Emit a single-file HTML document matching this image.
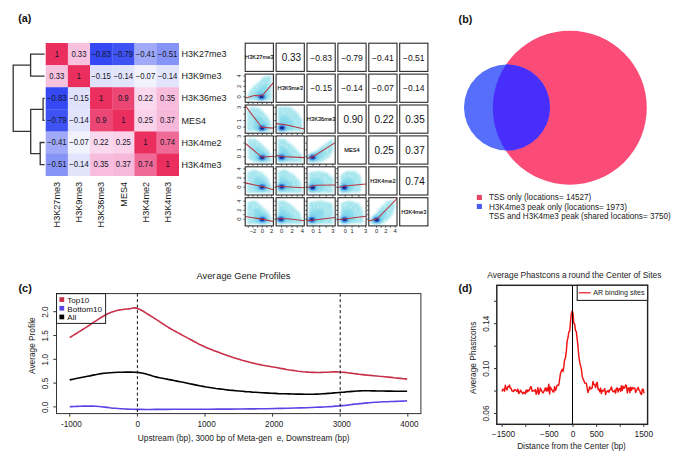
<!DOCTYPE html>
<html><head><meta charset="utf-8"><style>
html,body{margin:0;padding:0;background:#fff;}
body{width:685px;height:470px;overflow:hidden;}
svg{display:block;font-family:"Liberation Sans", sans-serif;}
</style></head><body>
<svg width="685" height="470" viewBox="0 0 685 470">
<rect width="685" height="470" fill="#fff"/>
<g id="heat">
<rect x="45.70" y="43.00" width="22.47" height="22.42" fill="#ea2f5e"/>
<rect x="67.87" y="43.00" width="22.47" height="22.42" fill="#f8c2df"/>
<rect x="90.03" y="43.00" width="22.47" height="22.42" fill="#3449f4"/>
<rect x="112.20" y="43.00" width="22.47" height="22.42" fill="#3f53f4"/>
<rect x="134.37" y="43.00" width="22.47" height="22.42" fill="#a0aaf8"/>
<rect x="156.53" y="43.00" width="22.47" height="22.42" fill="#8794f7"/>
<rect x="45.70" y="65.12" width="22.47" height="22.42" fill="#f8c2df"/>
<rect x="67.87" y="65.12" width="22.47" height="22.42" fill="#ea2f5e"/>
<rect x="90.03" y="65.12" width="22.47" height="22.42" fill="#dfe2fa"/>
<rect x="112.20" y="65.12" width="22.47" height="22.42" fill="#e1e4fb"/>
<rect x="134.37" y="65.12" width="22.47" height="22.42" fill="#f1f2fb"/>
<rect x="156.53" y="65.12" width="22.47" height="22.42" fill="#e1e4fb"/>
<rect x="45.70" y="87.23" width="22.47" height="22.42" fill="#3449f4"/>
<rect x="67.87" y="87.23" width="22.47" height="22.42" fill="#dfe2fa"/>
<rect x="90.03" y="87.23" width="22.47" height="22.42" fill="#ea2f5e"/>
<rect x="112.20" y="87.23" width="22.47" height="22.42" fill="#ec4675"/>
<rect x="134.37" y="87.23" width="22.47" height="22.42" fill="#fad8ed"/>
<rect x="156.53" y="87.23" width="22.47" height="22.42" fill="#f8bddc"/>
<rect x="45.70" y="109.35" width="22.47" height="22.42" fill="#3f53f4"/>
<rect x="67.87" y="109.35" width="22.47" height="22.42" fill="#e1e4fb"/>
<rect x="90.03" y="109.35" width="22.47" height="22.42" fill="#ec4675"/>
<rect x="112.20" y="109.35" width="22.47" height="22.42" fill="#ea2f5e"/>
<rect x="134.37" y="109.35" width="22.47" height="22.42" fill="#fad2e9"/>
<rect x="156.53" y="109.35" width="22.47" height="22.42" fill="#f7b9d9"/>
<rect x="45.70" y="131.47" width="22.47" height="22.42" fill="#a0aaf8"/>
<rect x="67.87" y="131.47" width="22.47" height="22.42" fill="#f1f2fb"/>
<rect x="90.03" y="131.47" width="22.47" height="22.42" fill="#fad8ed"/>
<rect x="112.20" y="131.47" width="22.47" height="22.42" fill="#fad2e9"/>
<rect x="134.37" y="131.47" width="22.47" height="22.42" fill="#ea2f5e"/>
<rect x="156.53" y="131.47" width="22.47" height="22.42" fill="#ef6a97"/>
<rect x="45.70" y="153.58" width="22.47" height="22.42" fill="#8794f7"/>
<rect x="67.87" y="153.58" width="22.47" height="22.42" fill="#e1e4fb"/>
<rect x="90.03" y="153.58" width="22.47" height="22.42" fill="#f8bddc"/>
<rect x="112.20" y="153.58" width="22.47" height="22.42" fill="#f7b9d9"/>
<rect x="134.37" y="153.58" width="22.47" height="22.42" fill="#ef6a97"/>
<rect x="156.53" y="153.58" width="22.47" height="22.42" fill="#ea2f5e"/>
<text x="56.78" y="56.66" font-size="8.4" text-anchor="middle" fill="#15152a" font-weight="normal" textLength="4.30" lengthAdjust="spacingAndGlyphs">1</text>
<text x="78.95" y="56.66" font-size="8.4" text-anchor="middle" fill="#15152a" font-weight="normal" textLength="15.04" lengthAdjust="spacingAndGlyphs">0.33</text>
<text x="101.12" y="56.66" font-size="8.4" text-anchor="middle" fill="#15152a" font-weight="normal" textLength="19.55" lengthAdjust="spacingAndGlyphs">−0.83</text>
<text x="123.28" y="56.66" font-size="8.4" text-anchor="middle" fill="#15152a" font-weight="normal" textLength="19.55" lengthAdjust="spacingAndGlyphs">−0.79</text>
<text x="145.45" y="56.66" font-size="8.4" text-anchor="middle" fill="#15152a" font-weight="normal" textLength="19.55" lengthAdjust="spacingAndGlyphs">−0.41</text>
<text x="167.62" y="56.66" font-size="8.4" text-anchor="middle" fill="#15152a" font-weight="normal" textLength="19.55" lengthAdjust="spacingAndGlyphs">−0.51</text>
<text x="56.78" y="78.77" font-size="8.4" text-anchor="middle" fill="#15152a" font-weight="normal" textLength="15.04" lengthAdjust="spacingAndGlyphs">0.33</text>
<text x="78.95" y="78.77" font-size="8.4" text-anchor="middle" fill="#15152a" font-weight="normal" textLength="4.30" lengthAdjust="spacingAndGlyphs">1</text>
<text x="101.12" y="78.77" font-size="8.4" text-anchor="middle" fill="#15152a" font-weight="normal" textLength="19.55" lengthAdjust="spacingAndGlyphs">−0.15</text>
<text x="123.28" y="78.77" font-size="8.4" text-anchor="middle" fill="#15152a" font-weight="normal" textLength="19.55" lengthAdjust="spacingAndGlyphs">−0.14</text>
<text x="145.45" y="78.77" font-size="8.4" text-anchor="middle" fill="#15152a" font-weight="normal" textLength="19.55" lengthAdjust="spacingAndGlyphs">−0.07</text>
<text x="167.62" y="78.77" font-size="8.4" text-anchor="middle" fill="#15152a" font-weight="normal" textLength="19.55" lengthAdjust="spacingAndGlyphs">−0.14</text>
<text x="56.78" y="100.89" font-size="8.4" text-anchor="middle" fill="#15152a" font-weight="normal" textLength="19.55" lengthAdjust="spacingAndGlyphs">−0.83</text>
<text x="78.95" y="100.89" font-size="8.4" text-anchor="middle" fill="#15152a" font-weight="normal" textLength="19.55" lengthAdjust="spacingAndGlyphs">−0.15</text>
<text x="101.12" y="100.89" font-size="8.4" text-anchor="middle" fill="#15152a" font-weight="normal" textLength="4.30" lengthAdjust="spacingAndGlyphs">1</text>
<text x="123.28" y="100.89" font-size="8.4" text-anchor="middle" fill="#15152a" font-weight="normal" textLength="10.74" lengthAdjust="spacingAndGlyphs">0.9</text>
<text x="145.45" y="100.89" font-size="8.4" text-anchor="middle" fill="#15152a" font-weight="normal" textLength="15.04" lengthAdjust="spacingAndGlyphs">0.22</text>
<text x="167.62" y="100.89" font-size="8.4" text-anchor="middle" fill="#15152a" font-weight="normal" textLength="15.04" lengthAdjust="spacingAndGlyphs">0.35</text>
<text x="56.78" y="123.01" font-size="8.4" text-anchor="middle" fill="#15152a" font-weight="normal" textLength="19.55" lengthAdjust="spacingAndGlyphs">−0.79</text>
<text x="78.95" y="123.01" font-size="8.4" text-anchor="middle" fill="#15152a" font-weight="normal" textLength="19.55" lengthAdjust="spacingAndGlyphs">−0.14</text>
<text x="101.12" y="123.01" font-size="8.4" text-anchor="middle" fill="#15152a" font-weight="normal" textLength="10.74" lengthAdjust="spacingAndGlyphs">0.9</text>
<text x="123.28" y="123.01" font-size="8.4" text-anchor="middle" fill="#15152a" font-weight="normal" textLength="4.30" lengthAdjust="spacingAndGlyphs">1</text>
<text x="145.45" y="123.01" font-size="8.4" text-anchor="middle" fill="#15152a" font-weight="normal" textLength="15.04" lengthAdjust="spacingAndGlyphs">0.25</text>
<text x="167.62" y="123.01" font-size="8.4" text-anchor="middle" fill="#15152a" font-weight="normal" textLength="15.04" lengthAdjust="spacingAndGlyphs">0.37</text>
<text x="56.78" y="145.12" font-size="8.4" text-anchor="middle" fill="#15152a" font-weight="normal" textLength="19.55" lengthAdjust="spacingAndGlyphs">−0.41</text>
<text x="78.95" y="145.12" font-size="8.4" text-anchor="middle" fill="#15152a" font-weight="normal" textLength="19.55" lengthAdjust="spacingAndGlyphs">−0.07</text>
<text x="101.12" y="145.12" font-size="8.4" text-anchor="middle" fill="#15152a" font-weight="normal" textLength="15.04" lengthAdjust="spacingAndGlyphs">0.22</text>
<text x="123.28" y="145.12" font-size="8.4" text-anchor="middle" fill="#15152a" font-weight="normal" textLength="15.04" lengthAdjust="spacingAndGlyphs">0.25</text>
<text x="145.45" y="145.12" font-size="8.4" text-anchor="middle" fill="#15152a" font-weight="normal" textLength="4.30" lengthAdjust="spacingAndGlyphs">1</text>
<text x="167.62" y="145.12" font-size="8.4" text-anchor="middle" fill="#15152a" font-weight="normal" textLength="15.04" lengthAdjust="spacingAndGlyphs">0.74</text>
<text x="56.78" y="167.24" font-size="8.4" text-anchor="middle" fill="#15152a" font-weight="normal" textLength="19.55" lengthAdjust="spacingAndGlyphs">−0.51</text>
<text x="78.95" y="167.24" font-size="8.4" text-anchor="middle" fill="#15152a" font-weight="normal" textLength="19.55" lengthAdjust="spacingAndGlyphs">−0.14</text>
<text x="101.12" y="167.24" font-size="8.4" text-anchor="middle" fill="#15152a" font-weight="normal" textLength="15.04" lengthAdjust="spacingAndGlyphs">0.35</text>
<text x="123.28" y="167.24" font-size="8.4" text-anchor="middle" fill="#15152a" font-weight="normal" textLength="15.04" lengthAdjust="spacingAndGlyphs">0.37</text>
<text x="145.45" y="167.24" font-size="8.4" text-anchor="middle" fill="#15152a" font-weight="normal" textLength="15.04" lengthAdjust="spacingAndGlyphs">0.74</text>
<text x="167.62" y="167.24" font-size="8.4" text-anchor="middle" fill="#15152a" font-weight="normal" textLength="4.30" lengthAdjust="spacingAndGlyphs">1</text>
<text x="181.50" y="57.26" font-size="9" text-anchor="start" fill="#1a1a1a" font-weight="normal" >H3K27me3</text>
<text x="181.50" y="79.38" font-size="9" text-anchor="start" fill="#1a1a1a" font-weight="normal" >H3K9me3</text>
<text x="181.50" y="101.49" font-size="9" text-anchor="start" fill="#1a1a1a" font-weight="normal" >H3K36me3</text>
<text x="181.50" y="123.61" font-size="9" text-anchor="start" fill="#1a1a1a" font-weight="normal" >MES4</text>
<text x="181.50" y="145.72" font-size="9" text-anchor="start" fill="#1a1a1a" font-weight="normal" >H3K4me2</text>
<text x="181.50" y="167.84" font-size="9" text-anchor="start" fill="#1a1a1a" font-weight="normal" >H3K4me3</text>
<text transform="translate(60.08,181.8) rotate(-90)" font-size="9.15" text-anchor="end" fill="#1a1a1a">H3K27me3</text>
<text transform="translate(82.25,181.8) rotate(-90)" font-size="9.15" text-anchor="end" fill="#1a1a1a">H3K9me3</text>
<text transform="translate(104.42,181.8) rotate(-90)" font-size="9.15" text-anchor="end" fill="#1a1a1a">H3K36me3</text>
<text transform="translate(126.58,181.8) rotate(-90)" font-size="9.15" text-anchor="end" fill="#1a1a1a">MES4</text>
<text transform="translate(148.75,181.8) rotate(-90)" font-size="9.15" text-anchor="end" fill="#1a1a1a">H3K4me2</text>
<text transform="translate(170.92,181.8) rotate(-90)" font-size="9.15" text-anchor="end" fill="#1a1a1a">H3K4me3</text>
</g>
<path d="M44.6,54.06 H30.6 V76.17 H44.6 M44.6,98.29 H43.1 V120.41 H44.6 M44.6,142.52 H40.2 V164.64 H44.6 M43.1,109.35 H30.7 V153.58 H40.2 M30.6,65.12 H13.2 V131.47 H30.7" fill="none" stroke="#333" stroke-width="1.3"/>
<text x="18.20" y="22.30" font-size="10.7" text-anchor="start" fill="#111" font-weight="bold" >(a)</text>
<defs><filter id="bl" x="-20%" y="-20%" width="140%" height="140%"><feGaussianBlur stdDeviation="0.9" result="b"/><feTurbulence type="fractalNoise" baseFrequency="0.45" numOctaves="2" seed="4" result="t"/><feColorMatrix in="t" type="matrix" values="0 0 0 0 1  0 0 0 0 1  0 0 0 0 1  0 0 0 -0.8 1.35" result="ta"/><feComposite in="b" in2="ta" operator="in"/></filter><filter id="bl2" x="-50%" y="-50%" width="200%" height="200%"><feGaussianBlur stdDeviation="1.1"/></filter><filter id="bl3" x="-50%" y="-50%" width="200%" height="200%"><feGaussianBlur stdDeviation="0.5"/></filter><radialGradient id="core"><stop offset="0" stop-color="#0a1a8a"/><stop offset="0.35" stop-color="#1f4fcf"/><stop offset="0.7" stop-color="#4aa8e8" stop-opacity="0.8"/><stop offset="1" stop-color="#8ad8f0" stop-opacity="0"/></radialGradient></defs>
<g id="pairs">
<rect x="245.20" y="43.20" width="28.2" height="28.2" fill="none" stroke="#2a2a2a" stroke-width="1.1"/>
<text x="259.30" y="59.40" font-size="5.7" text-anchor="middle" fill="#000" font-weight="normal" stroke="#000" stroke-width="0.1">H3K27me3</text>
<rect x="276.10" y="43.20" width="28.2" height="28.2" fill="none" stroke="#2a2a2a" stroke-width="1.1"/>
<text x="291.40" y="61.30" font-size="10.4" text-anchor="middle" fill="#111" textLength="19.4" lengthAdjust="spacingAndGlyphs">0.33</text>
<rect x="307.00" y="43.20" width="28.2" height="28.2" fill="none" stroke="#2a2a2a" stroke-width="1.1"/>
<text x="321.10" y="60.50" font-size="8.5" text-anchor="middle" fill="#111" textLength="21.6" lengthAdjust="spacingAndGlyphs">−0.83</text>
<rect x="337.90" y="43.20" width="28.2" height="28.2" fill="none" stroke="#2a2a2a" stroke-width="1.1"/>
<text x="352.00" y="60.50" font-size="8.5" text-anchor="middle" fill="#111" textLength="21.6" lengthAdjust="spacingAndGlyphs">−0.79</text>
<rect x="368.80" y="43.20" width="28.2" height="28.2" fill="none" stroke="#2a2a2a" stroke-width="1.1"/>
<text x="382.90" y="60.50" font-size="8.5" text-anchor="middle" fill="#111" textLength="21.6" lengthAdjust="spacingAndGlyphs">−0.41</text>
<rect x="399.70" y="43.20" width="28.2" height="28.2" fill="none" stroke="#2a2a2a" stroke-width="1.1"/>
<text x="413.80" y="60.50" font-size="8.5" text-anchor="middle" fill="#111" textLength="21.6" lengthAdjust="spacingAndGlyphs">−0.51</text>
<clipPath id="cp10"><rect x="245.20" y="74.10" width="28.2" height="28.2"/></clipPath>
<g clip-path="url(#cp10)">
<polygon points="247.17,100.33 247.17,96.66 249.43,91.02 253.66,85.94 259.30,82.00 262.68,76.92 267.76,75.79 271.43,75.79 271.43,100.33" fill="#a4e5ee" filter="url(#bl)"/>
<polygon points="253.65,98.68 253.65,96.66 254.89,93.56 257.21,90.77 260.32,88.59 262.18,85.80 264.97,85.18 266.98,85.18 266.98,98.68" fill="#7cd6ea" opacity="0.7" filter="url(#bl2)"/>
<ellipse cx="261.56" cy="96.66" rx="5.5" ry="4.5" fill="#5ab8ea" opacity="0.55" filter="url(#bl2)"/>
<ellipse cx="261.56" cy="96.66" rx="3.6" ry="3.0" fill="#3a84dc" opacity="0.8" filter="url(#bl3)"/>
<ellipse cx="261.56" cy="96.66" rx="2.1" ry="1.7" fill="#0e2694" filter="url(#bl3)"/>
<polyline points="245.20,98.35 254.22,95.53 262.12,95.81 273.40,82.56" fill="none" stroke="#bb3540" stroke-width="1.05"/>
</g>
<path d="M248.28,102.3 v1.8 M252.95,102.3 v1.8 M257.62,102.3 v1.8 M262.30,102.3 v1.8 M266.98,102.3 v1.8 M271.65,102.3 v1.8 M245.2,96.80 h-1.8 M245.2,91.60 h-1.8 M245.2,86.40 h-1.8 M245.2,81.20 h-1.8 M245.2,76.00 h-1.8" stroke="#333" stroke-width="0.8" fill="none"/>
<rect x="245.20" y="74.10" width="28.2" height="28.2" fill="none" stroke="#2a2a2a" stroke-width="1.1"/>
<rect x="276.10" y="74.10" width="28.2" height="28.2" fill="none" stroke="#2a2a2a" stroke-width="1.1"/>
<text x="290.20" y="90.30" font-size="5.7" text-anchor="middle" fill="#000" font-weight="normal" stroke="#000" stroke-width="0.1">H3K9me3</text>
<rect x="307.00" y="74.10" width="28.2" height="28.2" fill="none" stroke="#2a2a2a" stroke-width="1.1"/>
<text x="321.10" y="91.40" font-size="8.5" text-anchor="middle" fill="#111" textLength="21.6" lengthAdjust="spacingAndGlyphs">−0.15</text>
<rect x="337.90" y="74.10" width="28.2" height="28.2" fill="none" stroke="#2a2a2a" stroke-width="1.1"/>
<text x="352.00" y="91.40" font-size="8.5" text-anchor="middle" fill="#111" textLength="21.6" lengthAdjust="spacingAndGlyphs">−0.14</text>
<rect x="368.80" y="74.10" width="28.2" height="28.2" fill="none" stroke="#2a2a2a" stroke-width="1.1"/>
<text x="382.90" y="91.40" font-size="8.5" text-anchor="middle" fill="#111" textLength="21.6" lengthAdjust="spacingAndGlyphs">−0.07</text>
<rect x="399.70" y="74.10" width="28.2" height="28.2" fill="none" stroke="#2a2a2a" stroke-width="1.1"/>
<text x="413.80" y="91.40" font-size="8.5" text-anchor="middle" fill="#111" textLength="21.6" lengthAdjust="spacingAndGlyphs">−0.14</text>
<clipPath id="cp20"><rect x="245.20" y="105.00" width="28.2" height="28.2"/></clipPath>
<g clip-path="url(#cp20)">
<polygon points="247.17,109.23 252.25,106.69 259.30,107.82 266.35,114.87 271.14,122.48 271.43,131.23 247.17,131.23" fill="#a4e5ee" filter="url(#bl)"/>
<polygon points="253.90,117.73 256.69,116.34 260.57,116.96 264.45,120.83 267.08,125.02 267.24,129.83 253.90,129.83" fill="#7cd6ea" opacity="0.7" filter="url(#bl2)"/>
<ellipse cx="262.12" cy="128.12" rx="5.5" ry="4.5" fill="#5ab8ea" opacity="0.55" filter="url(#bl2)"/>
<ellipse cx="262.12" cy="128.12" rx="3.6" ry="3.0" fill="#3a84dc" opacity="0.8" filter="url(#bl3)"/>
<ellipse cx="262.12" cy="128.12" rx="2.1" ry="1.7" fill="#0e2694" filter="url(#bl3)"/>
<polyline points="245.20,105.56 261.56,127.28 273.40,128.12" fill="none" stroke="#bb3540" stroke-width="1.05"/>
</g>
<path d="M248.28,133.2 v1.8 M252.95,133.2 v1.8 M257.62,133.2 v1.8 M262.30,133.2 v1.8 M266.98,133.2 v1.8 M271.65,133.2 v1.8 M245.2,127.10 h-1.8 M245.2,120.53 h-1.8 M245.2,113.96 h-1.8 M245.2,107.39 h-1.8" stroke="#333" stroke-width="0.8" fill="none"/>
<rect x="245.20" y="105.00" width="28.2" height="28.2" fill="none" stroke="#2a2a2a" stroke-width="1.1"/>
<clipPath id="cp21"><rect x="276.10" y="105.00" width="28.2" height="28.2"/></clipPath>
<g clip-path="url(#cp21)">
<polygon points="278.07,106.69 290.20,106.69 298.66,113.46 302.33,120.51 302.33,131.23 278.07,131.23" fill="#a4e5ee" filter="url(#bl)"/>
<polygon points="279.85,116.21 286.52,116.21 291.17,119.93 293.19,123.81 293.19,129.70 279.85,129.70" fill="#7cd6ea" opacity="0.7" filter="url(#bl2)"/>
<ellipse cx="282.02" cy="127.84" rx="5.5" ry="4.5" fill="#5ab8ea" opacity="0.55" filter="url(#bl2)"/>
<ellipse cx="282.02" cy="127.84" rx="3.6" ry="3.0" fill="#3a84dc" opacity="0.8" filter="url(#bl3)"/>
<ellipse cx="282.02" cy="127.84" rx="2.1" ry="1.7" fill="#0e2694" filter="url(#bl3)"/>
<polyline points="276.10,123.61 284.56,124.46 304.30,128.97" fill="none" stroke="#bb3540" stroke-width="1.05"/>
</g>
<path d="M281.60,133.2 v1.8 M286.80,133.2 v1.8 M292.00,133.2 v1.8 M297.20,133.2 v1.8 M302.40,133.2 v1.8 M276.09999999999997,127.10 h-1.8 M276.09999999999997,120.53 h-1.8 M276.09999999999997,113.96 h-1.8 M276.09999999999997,107.39 h-1.8" stroke="#333" stroke-width="0.8" fill="none"/>
<rect x="276.10" y="105.00" width="28.2" height="28.2" fill="none" stroke="#2a2a2a" stroke-width="1.1"/>
<rect x="307.00" y="105.00" width="28.2" height="28.2" fill="none" stroke="#2a2a2a" stroke-width="1.1"/>
<text x="321.10" y="121.20" font-size="5.7" text-anchor="middle" fill="#000" font-weight="normal" stroke="#000" stroke-width="0.1">H3K36me3</text>
<rect x="337.90" y="105.00" width="28.2" height="28.2" fill="none" stroke="#2a2a2a" stroke-width="1.1"/>
<text x="353.20" y="123.10" font-size="10.4" text-anchor="middle" fill="#111" textLength="19.4" lengthAdjust="spacingAndGlyphs">0.90</text>
<rect x="368.80" y="105.00" width="28.2" height="28.2" fill="none" stroke="#2a2a2a" stroke-width="1.1"/>
<text x="384.10" y="123.10" font-size="10.4" text-anchor="middle" fill="#111" textLength="19.4" lengthAdjust="spacingAndGlyphs">0.22</text>
<rect x="399.70" y="105.00" width="28.2" height="28.2" fill="none" stroke="#2a2a2a" stroke-width="1.1"/>
<text x="415.00" y="123.10" font-size="10.4" text-anchor="middle" fill="#111" textLength="19.4" lengthAdjust="spacingAndGlyphs">0.35</text>
<clipPath id="cp30"><rect x="245.20" y="135.90" width="28.2" height="28.2"/></clipPath>
<g clip-path="url(#cp30)">
<polygon points="248.02,138.72 255.07,138.72 262.12,144.36 269.17,151.41 271.43,157.05 271.43,162.13 253.66,162.13 248.02,158.46" fill="#a4e5ee" filter="url(#bl)"/>
<polygon points="254.36,147.22 258.24,147.22 262.12,150.32 266.00,154.20 267.24,157.30 267.24,160.10 257.47,160.10 254.36,158.08" fill="#7cd6ea" opacity="0.7" filter="url(#bl2)"/>
<ellipse cx="262.12" cy="157.61" rx="5.5" ry="4.5" fill="#5ab8ea" opacity="0.55" filter="url(#bl2)"/>
<ellipse cx="262.12" cy="157.61" rx="3.6" ry="3.0" fill="#3a84dc" opacity="0.8" filter="url(#bl3)"/>
<ellipse cx="262.12" cy="157.61" rx="2.1" ry="1.7" fill="#0e2694" filter="url(#bl3)"/>
<polyline points="245.20,143.23 262.12,157.33 273.40,156.20" fill="none" stroke="#bb3540" stroke-width="1.05"/>
</g>
<path d="M248.28,164.09999999999997 v1.8 M252.95,164.09999999999997 v1.8 M257.62,164.09999999999997 v1.8 M262.30,164.09999999999997 v1.8 M266.98,164.09999999999997 v1.8 M271.65,164.09999999999997 v1.8 M245.2,156.70 h-1.8 M245.2,149.90 h-1.8 M245.2,143.10 h-1.8 M245.2,136.30 h-1.8" stroke="#333" stroke-width="0.8" fill="none"/>
<rect x="245.20" y="135.90" width="28.2" height="28.2" fill="none" stroke="#2a2a2a" stroke-width="1.1"/>
<clipPath id="cp31"><rect x="276.10" y="135.90" width="28.2" height="28.2"/></clipPath>
<g clip-path="url(#cp31)">
<polygon points="278.07,138.72 284.56,138.72 293.02,145.77 302.33,155.64 302.33,162.13 278.07,162.13" fill="#a4e5ee" filter="url(#bl)"/>
<polygon points="279.72,147.10 283.29,147.10 287.94,150.97 293.06,156.40 293.06,159.97 279.72,159.97" fill="#7cd6ea" opacity="0.7" filter="url(#bl2)"/>
<ellipse cx="281.74" cy="157.33" rx="5.5" ry="4.5" fill="#5ab8ea" opacity="0.55" filter="url(#bl2)"/>
<ellipse cx="281.74" cy="157.33" rx="3.6" ry="3.0" fill="#3a84dc" opacity="0.8" filter="url(#bl3)"/>
<ellipse cx="281.74" cy="157.33" rx="2.1" ry="1.7" fill="#0e2694" filter="url(#bl3)"/>
<polyline points="276.10,155.36 281.74,156.49 304.30,157.61" fill="none" stroke="#bb3540" stroke-width="1.05"/>
</g>
<path d="M281.60,164.09999999999997 v1.8 M286.80,164.09999999999997 v1.8 M292.00,164.09999999999997 v1.8 M297.20,164.09999999999997 v1.8 M302.40,164.09999999999997 v1.8 M276.09999999999997,156.70 h-1.8 M276.09999999999997,149.90 h-1.8 M276.09999999999997,143.10 h-1.8 M276.09999999999997,136.30 h-1.8" stroke="#333" stroke-width="0.8" fill="none"/>
<rect x="276.10" y="135.90" width="28.2" height="28.2" fill="none" stroke="#2a2a2a" stroke-width="1.1"/>
<clipPath id="cp32"><rect x="307.00" y="135.90" width="28.2" height="28.2"/></clipPath>
<g clip-path="url(#cp32)">
<polygon points="308.97,158.46 312.64,152.82 321.10,147.18 328.15,141.54 333.23,138.72 333.23,150.00 329.56,157.05 321.10,162.13 308.97,162.13" fill="#a4e5ee" filter="url(#bl)"/>
<polygon points="310.62,157.95 312.64,154.85 317.29,151.75 321.17,148.65 323.96,147.10 323.96,153.30 321.95,157.18 317.29,159.97 310.62,159.97" fill="#7cd6ea" opacity="0.7" filter="url(#bl2)"/>
<ellipse cx="312.64" cy="157.33" rx="5.5" ry="4.5" fill="#5ab8ea" opacity="0.55" filter="url(#bl2)"/>
<ellipse cx="312.64" cy="157.33" rx="3.6" ry="3.0" fill="#3a84dc" opacity="0.8" filter="url(#bl3)"/>
<ellipse cx="312.64" cy="157.33" rx="2.1" ry="1.7" fill="#0e2694" filter="url(#bl3)"/>
<polyline points="307.00,158.46 312.92,156.77 335.20,142.67" fill="none" stroke="#bb3540" stroke-width="1.05"/>
</g>
<path d="M313.10,164.09999999999997 v1.8 M319.67,164.09999999999997 v1.8 M326.24,164.09999999999997 v1.8 M332.81,164.09999999999997 v1.8 M307.0,156.70 h-1.8 M307.0,149.90 h-1.8 M307.0,143.10 h-1.8 M307.0,136.30 h-1.8" stroke="#333" stroke-width="0.8" fill="none"/>
<rect x="307.00" y="135.90" width="28.2" height="28.2" fill="none" stroke="#2a2a2a" stroke-width="1.1"/>
<rect x="337.90" y="135.90" width="28.2" height="28.2" fill="none" stroke="#2a2a2a" stroke-width="1.1"/>
<text x="352.00" y="152.10" font-size="5.7" text-anchor="middle" fill="#000" font-weight="normal" stroke="#000" stroke-width="0.1">MES4</text>
<rect x="368.80" y="135.90" width="28.2" height="28.2" fill="none" stroke="#2a2a2a" stroke-width="1.1"/>
<text x="384.10" y="154.00" font-size="10.4" text-anchor="middle" fill="#111" textLength="19.4" lengthAdjust="spacingAndGlyphs">0.25</text>
<rect x="399.70" y="135.90" width="28.2" height="28.2" fill="none" stroke="#2a2a2a" stroke-width="1.1"/>
<text x="415.00" y="154.00" font-size="10.4" text-anchor="middle" fill="#111" textLength="19.4" lengthAdjust="spacingAndGlyphs">0.37</text>
<clipPath id="cp40"><rect x="245.20" y="166.80" width="28.2" height="28.2"/></clipPath>
<g clip-path="url(#cp40)">
<polygon points="247.17,172.44 253.66,169.62 262.12,172.44 267.76,178.08 271.43,186.54 271.43,193.03 247.17,193.03" fill="#a4e5ee" filter="url(#bl)"/>
<polygon points="253.90,179.04 257.47,177.49 262.12,179.04 265.22,182.14 267.24,186.79 267.24,190.36 253.90,190.36" fill="#7cd6ea" opacity="0.7" filter="url(#bl2)"/>
<ellipse cx="262.12" cy="187.10" rx="5.5" ry="4.5" fill="#5ab8ea" opacity="0.55" filter="url(#bl2)"/>
<ellipse cx="262.12" cy="187.10" rx="3.6" ry="3.0" fill="#3a84dc" opacity="0.8" filter="url(#bl3)"/>
<ellipse cx="262.12" cy="187.10" rx="2.1" ry="1.7" fill="#0e2694" filter="url(#bl3)"/>
<polyline points="245.20,182.87 262.12,186.54 273.40,189.64" fill="none" stroke="#bb3540" stroke-width="1.05"/>
</g>
<path d="M248.28,195.0 v1.8 M252.95,195.0 v1.8 M257.62,195.0 v1.8 M262.30,195.0 v1.8 M266.98,195.0 v1.8 M271.65,195.0 v1.8 M245.2,187.20 h-1.8 M245.2,182.60 h-1.8 M245.2,178.00 h-1.8 M245.2,173.40 h-1.8 M245.2,168.80 h-1.8" stroke="#333" stroke-width="0.8" fill="none"/>
<rect x="245.20" y="166.80" width="28.2" height="28.2" fill="none" stroke="#2a2a2a" stroke-width="1.1"/>
<clipPath id="cp41"><rect x="276.10" y="166.80" width="28.2" height="28.2"/></clipPath>
<g clip-path="url(#cp41)">
<polygon points="278.07,171.03 284.56,169.62 293.02,173.85 300.07,180.90 302.33,189.36 302.33,193.03 278.07,193.03" fill="#a4e5ee" filter="url(#bl)"/>
<polygon points="279.72,178.14 283.29,177.36 287.94,179.69 291.82,183.56 293.06,188.22 293.06,190.23 279.72,190.23" fill="#7cd6ea" opacity="0.7" filter="url(#bl2)"/>
<ellipse cx="281.74" cy="186.82" rx="5.5" ry="4.5" fill="#5ab8ea" opacity="0.55" filter="url(#bl2)"/>
<ellipse cx="281.74" cy="186.82" rx="3.6" ry="3.0" fill="#3a84dc" opacity="0.8" filter="url(#bl3)"/>
<ellipse cx="281.74" cy="186.82" rx="2.1" ry="1.7" fill="#0e2694" filter="url(#bl3)"/>
<polyline points="276.10,186.26 304.30,187.67" fill="none" stroke="#bb3540" stroke-width="1.05"/>
</g>
<path d="M281.60,195.0 v1.8 M286.80,195.0 v1.8 M292.00,195.0 v1.8 M297.20,195.0 v1.8 M302.40,195.0 v1.8 M276.09999999999997,187.20 h-1.8 M276.09999999999997,182.60 h-1.8 M276.09999999999997,178.00 h-1.8 M276.09999999999997,173.40 h-1.8 M276.09999999999997,168.80 h-1.8" stroke="#333" stroke-width="0.8" fill="none"/>
<rect x="276.10" y="166.80" width="28.2" height="28.2" fill="none" stroke="#2a2a2a" stroke-width="1.1"/>
<clipPath id="cp42"><rect x="307.00" y="166.80" width="28.2" height="28.2"/></clipPath>
<g clip-path="url(#cp42)">
<polygon points="308.97,172.44 318.28,171.03 326.74,172.44 333.23,178.08 333.23,193.03 308.97,193.03" fill="#a4e5ee" filter="url(#bl)"/>
<polygon points="310.62,179.23 315.74,178.45 320.39,179.23 323.96,182.33 323.96,190.55 310.62,190.55" fill="#7cd6ea" opacity="0.7" filter="url(#bl2)"/>
<ellipse cx="312.64" cy="187.53" rx="5.5" ry="4.5" fill="#5ab8ea" opacity="0.55" filter="url(#bl2)"/>
<ellipse cx="312.64" cy="187.53" rx="3.6" ry="3.0" fill="#3a84dc" opacity="0.8" filter="url(#bl3)"/>
<ellipse cx="312.64" cy="187.53" rx="2.1" ry="1.7" fill="#0e2694" filter="url(#bl3)"/>
<polyline points="307.00,187.53 316.31,185.30 335.20,185.02" fill="none" stroke="#bb3540" stroke-width="1.05"/>
</g>
<path d="M313.10,195.0 v1.8 M319.67,195.0 v1.8 M326.24,195.0 v1.8 M332.81,195.0 v1.8 M307.0,187.20 h-1.8 M307.0,182.60 h-1.8 M307.0,178.00 h-1.8 M307.0,173.40 h-1.8 M307.0,168.80 h-1.8" stroke="#333" stroke-width="0.8" fill="none"/>
<rect x="307.00" y="166.80" width="28.2" height="28.2" fill="none" stroke="#2a2a2a" stroke-width="1.1"/>
<clipPath id="cp43"><rect x="337.90" y="166.80" width="28.2" height="28.2"/></clipPath>
<g clip-path="url(#cp43)">
<polygon points="340.72,175.26 346.36,171.03 354.82,171.03 360.46,175.26 361.87,183.72 360.46,192.18 349.18,193.03 339.87,193.03" fill="#a4e5ee" filter="url(#bl)"/>
<polygon points="342.37,180.78 345.47,178.45 350.12,178.45 353.23,180.78 354.00,185.43 353.23,190.09 347.02,190.55 341.90,190.55" fill="#7cd6ea" opacity="0.7" filter="url(#bl2)"/>
<ellipse cx="344.39" cy="187.53" rx="5.5" ry="4.5" fill="#5ab8ea" opacity="0.55" filter="url(#bl2)"/>
<ellipse cx="344.39" cy="187.53" rx="3.6" ry="3.0" fill="#3a84dc" opacity="0.8" filter="url(#bl3)"/>
<ellipse cx="344.39" cy="187.53" rx="2.1" ry="1.7" fill="#0e2694" filter="url(#bl3)"/>
<polyline points="337.90,187.53 344.67,185.98 366.10,184.00" fill="none" stroke="#bb3540" stroke-width="1.05"/>
</g>
<path d="M345.30,195.0 v1.8 M352.10,195.0 v1.8 M358.90,195.0 v1.8 M365.70,195.0 v1.8 M337.9,187.20 h-1.8 M337.9,182.60 h-1.8 M337.9,178.00 h-1.8 M337.9,173.40 h-1.8 M337.9,168.80 h-1.8" stroke="#333" stroke-width="0.8" fill="none"/>
<rect x="337.90" y="166.80" width="28.2" height="28.2" fill="none" stroke="#2a2a2a" stroke-width="1.1"/>
<rect x="368.80" y="166.80" width="28.2" height="28.2" fill="none" stroke="#2a2a2a" stroke-width="1.1"/>
<text x="382.90" y="183.00" font-size="5.7" text-anchor="middle" fill="#000" font-weight="normal" stroke="#000" stroke-width="0.1">H3K4me2</text>
<rect x="399.70" y="166.80" width="28.2" height="28.2" fill="none" stroke="#2a2a2a" stroke-width="1.1"/>
<text x="415.00" y="184.90" font-size="10.4" text-anchor="middle" fill="#111" textLength="19.4" lengthAdjust="spacingAndGlyphs">0.74</text>
<clipPath id="cp50"><rect x="245.20" y="197.70" width="28.2" height="28.2"/></clipPath>
<g clip-path="url(#cp50)">
<polygon points="247.17,201.93 255.07,200.52 262.12,206.16 269.17,213.21 271.43,218.85 271.43,223.93 247.17,223.93" fill="#a4e5ee" filter="url(#bl)"/>
<polygon points="254.03,209.80 258.37,209.02 262.25,212.12 266.12,216.00 267.37,219.10 267.37,221.90 254.03,221.90" fill="#7cd6ea" opacity="0.7" filter="url(#bl2)"/>
<ellipse cx="262.40" cy="219.41" rx="5.5" ry="4.5" fill="#5ab8ea" opacity="0.55" filter="url(#bl2)"/>
<ellipse cx="262.40" cy="219.41" rx="3.6" ry="3.0" fill="#3a84dc" opacity="0.8" filter="url(#bl3)"/>
<ellipse cx="262.40" cy="219.41" rx="2.1" ry="1.7" fill="#0e2694" filter="url(#bl3)"/>
<polyline points="245.20,216.59 262.40,219.13 273.40,221.53" fill="none" stroke="#bb3540" stroke-width="1.05"/>
</g>
<path d="M248.28,225.89999999999998 v1.8 M252.95,225.89999999999998 v1.8 M257.62,225.89999999999998 v1.8 M262.30,225.89999999999998 v1.8 M266.98,225.89999999999998 v1.8 M271.65,225.89999999999998 v1.8 M245.2,219.20 h-1.8 M245.2,214.70 h-1.8 M245.2,210.20 h-1.8 M245.2,205.70 h-1.8 M245.2,201.20 h-1.8" stroke="#333" stroke-width="0.8" fill="none"/>
<rect x="245.20" y="197.70" width="28.2" height="28.2" fill="none" stroke="#2a2a2a" stroke-width="1.1"/>
<clipPath id="cp51"><rect x="276.10" y="197.70" width="28.2" height="28.2"/></clipPath>
<g clip-path="url(#cp51)">
<polygon points="278.07,200.52 284.56,200.52 293.02,206.16 300.07,213.21 302.33,220.26 302.33,223.93 278.07,223.93" fill="#a4e5ee" filter="url(#bl)"/>
<polygon points="279.41,208.90 282.97,208.90 287.63,212.00 291.50,215.87 292.75,219.75 292.75,221.77 279.41,221.77" fill="#7cd6ea" opacity="0.7" filter="url(#bl2)"/>
<ellipse cx="281.03" cy="219.13" rx="5.5" ry="4.5" fill="#5ab8ea" opacity="0.55" filter="url(#bl2)"/>
<ellipse cx="281.03" cy="219.13" rx="3.6" ry="3.0" fill="#3a84dc" opacity="0.8" filter="url(#bl3)"/>
<ellipse cx="281.03" cy="219.13" rx="2.1" ry="1.7" fill="#0e2694" filter="url(#bl3)"/>
<polyline points="276.10,218.71 287.94,218.71 304.30,220.82" fill="none" stroke="#bb3540" stroke-width="1.05"/>
</g>
<path d="M281.60,225.89999999999998 v1.8 M286.80,225.89999999999998 v1.8 M292.00,225.89999999999998 v1.8 M297.20,225.89999999999998 v1.8 M302.40,225.89999999999998 v1.8 M276.09999999999997,219.20 h-1.8 M276.09999999999997,214.70 h-1.8 M276.09999999999997,210.20 h-1.8 M276.09999999999997,205.70 h-1.8 M276.09999999999997,201.20 h-1.8" stroke="#333" stroke-width="0.8" fill="none"/>
<rect x="276.10" y="197.70" width="28.2" height="28.2" fill="none" stroke="#2a2a2a" stroke-width="1.1"/>
<clipPath id="cp52"><rect x="307.00" y="197.70" width="28.2" height="28.2"/></clipPath>
<g clip-path="url(#cp52)">
<polygon points="308.97,201.93 321.10,200.52 332.38,203.34 333.23,211.80 333.23,223.93 308.97,223.93" fill="#a4e5ee" filter="url(#bl)"/>
<polygon points="310.31,209.92 316.98,209.15 323.18,210.70 323.65,215.35 323.65,222.02 310.31,222.02" fill="#7cd6ea" opacity="0.7" filter="url(#bl2)"/>
<ellipse cx="311.94" cy="219.70" rx="5.5" ry="4.5" fill="#5ab8ea" opacity="0.55" filter="url(#bl2)"/>
<ellipse cx="311.94" cy="219.70" rx="3.6" ry="3.0" fill="#3a84dc" opacity="0.8" filter="url(#bl3)"/>
<ellipse cx="311.94" cy="219.70" rx="2.1" ry="1.7" fill="#0e2694" filter="url(#bl3)"/>
<polyline points="307.00,220.82 335.20,217.44" fill="none" stroke="#bb3540" stroke-width="1.05"/>
</g>
<path d="M313.10,225.89999999999998 v1.8 M319.67,225.89999999999998 v1.8 M326.24,225.89999999999998 v1.8 M332.81,225.89999999999998 v1.8 M307.0,219.20 h-1.8 M307.0,214.70 h-1.8 M307.0,210.20 h-1.8 M307.0,205.70 h-1.8 M307.0,201.20 h-1.8" stroke="#333" stroke-width="0.8" fill="none"/>
<rect x="307.00" y="197.70" width="28.2" height="28.2" fill="none" stroke="#2a2a2a" stroke-width="1.1"/>
<clipPath id="cp53"><rect x="337.90" y="197.70" width="28.2" height="28.2"/></clipPath>
<g clip-path="url(#cp53)">
<polygon points="340.72,203.34 349.18,200.52 359.05,203.34 363.28,211.80 363.28,223.08 340.72,223.93" fill="#a4e5ee" filter="url(#bl)"/>
<polygon points="342.50,210.57 347.15,209.02 352.58,210.57 354.90,215.23 354.90,221.43 342.50,221.90" fill="#7cd6ea" opacity="0.7" filter="url(#bl2)"/>
<ellipse cx="344.67" cy="219.41" rx="5.5" ry="4.5" fill="#5ab8ea" opacity="0.55" filter="url(#bl2)"/>
<ellipse cx="344.67" cy="219.41" rx="3.6" ry="3.0" fill="#3a84dc" opacity="0.8" filter="url(#bl3)"/>
<ellipse cx="344.67" cy="219.41" rx="2.1" ry="1.7" fill="#0e2694" filter="url(#bl3)"/>
<polyline points="337.90,219.70 366.10,216.31" fill="none" stroke="#bb3540" stroke-width="1.05"/>
</g>
<path d="M345.30,225.89999999999998 v1.8 M352.10,225.89999999999998 v1.8 M358.90,225.89999999999998 v1.8 M365.70,225.89999999999998 v1.8 M337.9,219.20 h-1.8 M337.9,214.70 h-1.8 M337.9,210.20 h-1.8 M337.9,205.70 h-1.8 M337.9,201.20 h-1.8" stroke="#333" stroke-width="0.8" fill="none"/>
<rect x="337.90" y="197.70" width="28.2" height="28.2" fill="none" stroke="#2a2a2a" stroke-width="1.1"/>
<clipPath id="cp54"><rect x="368.80" y="197.70" width="28.2" height="28.2"/></clipPath>
<g clip-path="url(#cp54)">
<polygon points="370.77,223.93 370.77,218.85 375.85,213.21 381.49,206.16 388.54,200.52 394.18,200.52 395.03,207.57 392.77,214.62 385.72,221.67 381.49,223.93" fill="#a4e5ee" filter="url(#bl)"/>
<polygon points="373.44,222.02 373.44,219.23 376.23,216.13 379.33,212.25 383.21,209.15 386.31,209.15 386.78,213.03 385.54,216.90 381.66,220.78 379.33,222.02" fill="#7cd6ea" opacity="0.7" filter="url(#bl2)"/>
<ellipse cx="376.70" cy="219.70" rx="5.5" ry="4.5" fill="#5ab8ea" opacity="0.55" filter="url(#bl2)"/>
<ellipse cx="376.70" cy="219.70" rx="3.6" ry="3.0" fill="#3a84dc" opacity="0.8" filter="url(#bl3)"/>
<ellipse cx="376.70" cy="219.70" rx="2.1" ry="1.7" fill="#0e2694" filter="url(#bl3)"/>
<polyline points="368.80,221.11 377.26,218.85 397.00,198.55" fill="none" stroke="#bb3540" stroke-width="1.05"/>
</g>
<path d="M376.60,225.89999999999998 v1.8 M381.20,225.89999999999998 v1.8 M385.80,225.89999999999998 v1.8 M390.40,225.89999999999998 v1.8 M395.00,225.89999999999998 v1.8 M368.79999999999995,219.20 h-1.8 M368.79999999999995,214.70 h-1.8 M368.79999999999995,210.20 h-1.8 M368.79999999999995,205.70 h-1.8 M368.79999999999995,201.20 h-1.8" stroke="#333" stroke-width="0.8" fill="none"/>
<rect x="368.80" y="197.70" width="28.2" height="28.2" fill="none" stroke="#2a2a2a" stroke-width="1.1"/>
<rect x="399.70" y="197.70" width="28.2" height="28.2" fill="none" stroke="#2a2a2a" stroke-width="1.1"/>
<text x="413.80" y="213.90" font-size="5.7" text-anchor="middle" fill="#000" font-weight="normal" stroke="#000" stroke-width="0.1">H3K4me3</text>
<text transform="translate(241.0,96.80) rotate(-90)" font-size="5.8" text-anchor="middle" fill="#222">0</text>
<text transform="translate(241.0,86.40) rotate(-90)" font-size="5.8" text-anchor="middle" fill="#222">2</text>
<text transform="translate(241.0,76.00) rotate(-90)" font-size="5.8" text-anchor="middle" fill="#222">4</text>
<text transform="translate(241.0,127.10) rotate(-90)" font-size="5.8" text-anchor="middle" fill="#222">0</text>
<text transform="translate(241.0,120.53) rotate(-90)" font-size="5.8" text-anchor="middle" fill="#222">1</text>
<text transform="translate(241.0,107.39) rotate(-90)" font-size="5.8" text-anchor="middle" fill="#222">3</text>
<text transform="translate(241.0,156.70) rotate(-90)" font-size="5.8" text-anchor="middle" fill="#222">0</text>
<text transform="translate(241.0,149.90) rotate(-90)" font-size="5.8" text-anchor="middle" fill="#222">1</text>
<text transform="translate(241.0,136.30) rotate(-90)" font-size="5.8" text-anchor="middle" fill="#222">3</text>
<text transform="translate(241.0,187.20) rotate(-90)" font-size="5.8" text-anchor="middle" fill="#222">0</text>
<text transform="translate(241.0,178.00) rotate(-90)" font-size="5.8" text-anchor="middle" fill="#222">2</text>
<text transform="translate(241.0,168.80) rotate(-90)" font-size="5.8" text-anchor="middle" fill="#222">4</text>
<text transform="translate(241.0,219.20) rotate(-90)" font-size="5.8" text-anchor="middle" fill="#222">0</text>
<text transform="translate(241.0,210.20) rotate(-90)" font-size="5.8" text-anchor="middle" fill="#222">2</text>
<text transform="translate(241.0,201.20) rotate(-90)" font-size="5.8" text-anchor="middle" fill="#222">4</text>
<text x="252.95" y="233.40" font-size="5.8" text-anchor="middle" fill="#222" font-weight="normal" >−2</text>
<text x="262.30" y="233.40" font-size="5.8" text-anchor="middle" fill="#222" font-weight="normal" >0</text>
<text x="271.65" y="233.40" font-size="5.8" text-anchor="middle" fill="#222" font-weight="normal" >2</text>
<text x="281.60" y="233.40" font-size="5.8" text-anchor="middle" fill="#222" font-weight="normal" >0</text>
<text x="292.00" y="233.40" font-size="5.8" text-anchor="middle" fill="#222" font-weight="normal" >2</text>
<text x="302.40" y="233.40" font-size="5.8" text-anchor="middle" fill="#222" font-weight="normal" >4</text>
<text x="313.10" y="233.40" font-size="5.8" text-anchor="middle" fill="#222" font-weight="normal" >0</text>
<text x="319.67" y="233.40" font-size="5.8" text-anchor="middle" fill="#222" font-weight="normal" >1</text>
<text x="332.81" y="233.40" font-size="5.8" text-anchor="middle" fill="#222" font-weight="normal" >3</text>
<text x="345.30" y="233.40" font-size="5.8" text-anchor="middle" fill="#222" font-weight="normal" >0</text>
<text x="352.10" y="233.40" font-size="5.8" text-anchor="middle" fill="#222" font-weight="normal" >1</text>
<text x="365.70" y="233.40" font-size="5.8" text-anchor="middle" fill="#222" font-weight="normal" >3</text>
<text x="376.60" y="233.40" font-size="5.8" text-anchor="middle" fill="#222" font-weight="normal" >0</text>
<text x="385.80" y="233.40" font-size="5.8" text-anchor="middle" fill="#222" font-weight="normal" >2</text>
<text x="395.00" y="233.40" font-size="5.8" text-anchor="middle" fill="#222" font-weight="normal" >4</text>
</g>
<text x="458.60" y="22.80" font-size="10.7" text-anchor="start" fill="#111" font-weight="bold" >(b)</text>
<circle cx="569.8" cy="107.7" r="77" fill="#fb4b77"/>
<circle cx="507" cy="107.4" r="43" fill="#566efa"/>
<clipPath id="cr"><circle cx="569.8" cy="107.7" r="77"/></clipPath>
<circle cx="507" cy="107.4" r="43" fill="#472efa" clip-path="url(#cr)"/>
<rect x="476.8" y="194.9" width="5.1" height="5.1" fill="#e84466"/>
<rect x="476.8" y="203.9" width="5.1" height="5.1" fill="#4a5af0"/>
<text x="488.90" y="200.30" font-size="8.15" text-anchor="start" fill="#222" font-weight="normal" >TSS only (locations= 14527)</text>
<text x="488.90" y="209.80" font-size="8.15" text-anchor="start" fill="#222" font-weight="normal" >H3K4me3 peak only (locations= 1973)</text>
<text x="488.90" y="219.30" font-size="8.15" text-anchor="start" fill="#222" font-weight="normal" >TSS and H3K4me3 peak (shared locations= 3750)</text>
<text x="18.40" y="292.40" font-size="11" text-anchor="start" fill="#111" font-weight="bold" >(c)</text>
<text x="196.60" y="279.40" font-size="9.25" text-anchor="start" fill="#222" font-weight="normal" >Aver<tspan dx="0.8">age Gene Profiles</tspan></text>
<polyline points="69.7,337.6 71.1,336.7 72.9,335.6 75.1,334.2 77.6,332.7 80.1,331.1 82.7,329.5 85.3,327.9 87.6,326.4 89.8,325.0 92.1,323.4 94.4,321.9 96.7,320.4 98.9,318.9 101.1,317.5 103.1,316.3 105.0,315.2 106.7,314.3 108.3,313.5 109.8,312.9 111.3,312.3 112.6,311.8 114.0,311.4 115.4,311.0 116.8,310.6 118.3,310.2 119.8,309.9 121.3,309.7 122.8,309.5 124.3,309.3 125.8,309.2 127.2,309.0 128.5,308.9 129.7,308.7 130.8,308.5 131.8,308.3 132.8,308.0 133.8,307.9 134.9,307.9 136.1,308.1 137.4,308.4 138.9,309.0 140.4,309.7 142.0,310.5 143.6,311.5 145.4,312.6 147.2,313.8 149.2,315.0 151.2,316.3 153.4,317.6 155.7,319.1 158.1,320.7 160.6,322.3 163.1,324.0 165.6,325.6 168.1,327.2 170.6,328.7 173.1,330.1 175.6,331.5 178.1,332.9 180.7,334.3 183.1,335.6 185.6,336.9 187.9,338.1 190.0,339.2 191.9,340.2 193.6,341.2 195.1,342.0 196.5,342.8 198.0,343.6 199.6,344.5 201.5,345.3 203.6,346.3 206.1,347.4 208.8,348.5 211.8,349.7 214.8,350.9 218.0,352.1 221.1,353.3 224.3,354.4 227.3,355.5 230.3,356.5 233.2,357.5 236.2,358.4 239.1,359.3 242.0,360.2 245.0,361.0 247.9,361.8 250.9,362.6 253.9,363.3 256.8,364.0 259.8,364.6 262.8,365.2 265.7,365.7 268.7,366.2 271.6,366.8 274.6,367.3 277.6,367.8 280.6,368.4 283.7,368.9 286.7,369.5 289.7,370.0 292.7,370.4 295.5,370.8 298.2,371.2 300.7,371.5 303.1,371.8 305.3,372.0 307.5,372.1 309.6,372.3 311.8,372.4 314.1,372.4 316.6,372.5 319.2,372.5 321.9,372.4 324.7,372.3 327.5,372.2 330.4,372.0 333.3,371.9 336.1,371.9 339.0,372.0 341.9,372.2 344.7,372.4 347.6,372.8 350.5,373.1 353.4,373.5 356.3,373.9 359.2,374.3 362.1,374.6 365.0,374.9 367.9,375.2 370.7,375.4 373.6,375.7 376.5,376.0 379.3,376.3 382.2,376.5 385.0,376.8 388.0,377.1 391.1,377.4 394.3,377.8 397.5,378.1 400.5,378.4 403.1,378.7 405.4,378.9 407.1,379.1" fill="none" stroke="#c8304a" stroke-width="1.6" stroke-linejoin="round"/>
<polyline points="69.7,379.9 71.1,379.6 72.9,379.2 75.0,378.8 77.4,378.3 80.0,377.8 82.6,377.3 85.2,376.8 87.6,376.3 89.9,375.9 92.1,375.4 94.3,374.9 96.5,374.5 98.9,374.0 101.3,373.6 104.0,373.3 107.0,373.0 110.3,372.8 114.1,372.5 118.1,372.3 122.2,372.2 126.3,372.1 130.3,372.1 134.1,372.2 137.4,372.4 140.3,372.7 142.9,373.2 145.3,373.8 147.6,374.4 149.7,375.1 151.9,375.8 154.3,376.5 156.8,377.1 159.5,377.7 162.3,378.2 165.1,378.8 168.0,379.4 170.9,379.9 173.9,380.5 176.9,381.1 180.0,381.7 183.1,382.3 186.4,383.0 189.6,383.7 193.0,384.4 196.3,385.1 199.7,385.8 203.0,386.4 206.3,387.0 209.6,387.5 212.9,388.0 216.1,388.5 219.4,388.9 222.7,389.3 225.9,389.7 229.2,390.1 232.5,390.4 235.8,390.7 239.1,391.0 242.4,391.3 245.6,391.6 248.9,391.8 252.2,392.1 255.5,392.3 258.8,392.5 262.1,392.7 265.3,392.9 268.4,393.1 271.6,393.3 274.9,393.4 278.2,393.6 281.6,393.7 285.1,393.8 288.9,393.9 292.8,394.0 296.9,394.1 301.1,394.1 305.2,394.2 309.2,394.2 313.1,394.2 316.6,394.1 319.8,394.0 322.9,393.8 325.7,393.6 328.5,393.4 331.1,393.2 333.7,392.9 336.3,392.7 339.0,392.5 341.7,392.3 344.4,392.1 347.0,391.8 349.6,391.6 352.3,391.4 354.9,391.2 357.4,391.0 360.0,390.9 362.5,390.8 364.9,390.8 367.3,390.8 369.6,390.8 372.0,390.9 374.5,390.9 377.2,391.0 380.0,391.0 383.2,391.0 386.9,391.1 390.8,391.1 394.8,391.2 398.6,391.2 402.1,391.2 405.0,391.3 407.1,391.3" fill="none" stroke="#000" stroke-width="1.6" stroke-linejoin="round"/>
<polyline points="69.7,406.7 71.5,406.6 74.0,406.5 76.9,406.4 80.1,406.3 83.5,406.1 86.9,406.1 90.2,406.0 93.2,406.1 96.0,406.2 98.8,406.5 101.6,406.8 104.3,407.1 107.1,407.4 109.8,407.8 112.5,408.1 115.3,408.3 117.9,408.5 120.3,408.7 122.7,408.8 125.1,409.0 127.6,409.1 130.4,409.2 133.7,409.3 137.4,409.4 141.5,409.4 145.8,409.5 150.3,409.5 155.2,409.4 160.5,409.4 166.3,409.4 172.8,409.3 180.0,409.3 188.3,409.3 197.8,409.2 208.1,409.2 218.8,409.1 229.6,409.1 240.1,409.0 250.0,408.9 258.8,408.8 266.8,408.7 274.4,408.5 281.5,408.4 288.3,408.2 294.7,408.0 300.6,407.9 306.2,407.7 311.4,407.5 316.1,407.3 320.2,407.1 323.9,407.0 327.2,406.8 330.2,406.6 333.1,406.4 336.0,406.1 339.0,405.9 341.9,405.6 344.7,405.4 347.4,405.1 350.0,404.7 352.5,404.4 355.0,404.1 357.5,403.9 360.0,403.6 362.5,403.4 364.9,403.1 367.3,402.9 369.6,402.7 372.0,402.5 374.5,402.3 377.2,402.2 380.0,402.0 383.2,401.8 386.9,401.7 390.8,401.5 394.8,401.4 398.6,401.2 402.1,401.1 405.0,401.0 407.1,400.9" fill="none" stroke="#5a46e6" stroke-width="1.6" stroke-linejoin="round"/>
<line x1="137.40" y1="293.6" x2="137.40" y2="413.6" stroke="#111" stroke-width="1" stroke-dasharray="3,2.5"/>
<line x1="340.20" y1="293.6" x2="340.20" y2="413.6" stroke="#111" stroke-width="1" stroke-dasharray="3,2.5"/>
<rect x="56.5" y="293.6" width="364.4" height="120.0" fill="none" stroke="#333" stroke-width="1"/>
<rect x="56.5" y="293.6" width="49.1" height="29.8" fill="none" stroke="#222" stroke-width="1"/>
<rect x="59.4" y="297.20" width="4.8" height="4.7" fill="#c8304a"/>
<text x="67.30" y="302.90" font-size="8.1" text-anchor="start" fill="#111" font-weight="normal" >Top10</text>
<rect x="59.4" y="305.90" width="4.8" height="4.7" fill="#5a46e6"/>
<text x="67.30" y="311.60" font-size="8.1" text-anchor="start" fill="#111" font-weight="normal" >Bottom10</text>
<rect x="59.4" y="314.60" width="4.8" height="4.7" fill="#000"/>
<text x="67.30" y="320.30" font-size="8.1" text-anchor="start" fill="#111" font-weight="normal" >All</text>
<path d="M69.80,413.6 v3 M137.40,413.6 v3 M205.00,413.6 v3 M272.60,413.6 v3 M340.20,413.6 v3 M407.80,413.6 v3 M56.5,406.90 h-3.2 M56.5,383.10 h-3.2 M56.5,359.30 h-3.2 M56.5,335.50 h-3.2 M56.5,311.70 h-3.2" stroke="#333" stroke-width="1" fill="none"/>
<text x="71.40" y="426.80" font-size="8.2" text-anchor="middle" fill="#222" font-weight="normal" >-1000</text>
<text x="137.90" y="426.80" font-size="8.2" text-anchor="middle" fill="#222" font-weight="normal" >0</text>
<text x="206.60" y="426.80" font-size="8.2" text-anchor="middle" fill="#222" font-weight="normal" >1000</text>
<text x="274.20" y="426.80" font-size="8.2" text-anchor="middle" fill="#222" font-weight="normal" >2000</text>
<text x="341.80" y="426.80" font-size="8.2" text-anchor="middle" fill="#222" font-weight="normal" >3000</text>
<text x="409.40" y="426.80" font-size="8.2" text-anchor="middle" fill="#222" font-weight="normal" >4000</text>
<text transform="translate(48.2,407.30) rotate(-90)" font-size="8.2" text-anchor="middle" fill="#222">0.0</text>
<text transform="translate(48.2,383.50) rotate(-90)" font-size="8.2" text-anchor="middle" fill="#222">0.5</text>
<text transform="translate(48.2,359.70) rotate(-90)" font-size="8.2" text-anchor="middle" fill="#222">1.0</text>
<text transform="translate(48.2,335.90) rotate(-90)" font-size="8.2" text-anchor="middle" fill="#222">1.5</text>
<text transform="translate(48.2,312.10) rotate(-90)" font-size="8.2" text-anchor="middle" fill="#222">2.0</text>
<text transform="translate(34.8,345.7) rotate(-90)" font-size="8.3" text-anchor="middle" fill="#222">Average Profile</text>
<text x="243.70" y="440.80" font-size="8.3" text-anchor="middle" fill="#222" font-weight="normal" >Upstream (bp), 3000 bp of Meta-gen&#160; e, Downstream (bp)</text>
<text x="458.40" y="292.00" font-size="10.7" text-anchor="start" fill="#111" font-weight="bold" >(d)</text>
<text x="487.30" y="277.50" font-size="8.37" text-anchor="start" fill="#222" font-weight="normal" >Average Phastcons a<tspan dx="1.8">round the Center of Sites</tspan></text>
<polyline points="502.0,391.4 502.8,389.3 503.7,389.2 504.5,391.3 505.3,385.3 506.2,388.7 507.0,389.9 507.8,386.7 508.7,387.0 509.5,385.1 510.4,388.4 511.2,388.5 512.0,390.9 512.9,390.9 513.7,391.6 514.5,389.6 515.4,389.9 516.2,390.5 517.0,391.4 517.9,389.1 518.7,393.4 519.5,392.9 520.4,390.3 521.2,391.1 522.0,392.5 522.9,393.8 523.7,392.2 524.6,392.7 525.4,393.8 526.2,390.0 527.1,392.0 527.9,389.9 528.7,391.0 529.6,389.6 530.4,387.1 531.2,386.7 532.1,391.2 532.9,390.9 533.7,390.6 534.6,391.1 535.4,389.6 536.2,394.3 537.1,392.0 537.9,387.7 538.8,394.3 539.6,391.8 540.4,388.1 541.3,390.5 542.1,391.6 542.9,393.0 543.8,391.6 544.6,389.7 545.4,387.9 546.3,391.0 547.1,387.9 547.9,391.0 548.8,384.2 549.6,393.9 550.4,387.0 551.3,388.8 552.1,390.1 553.0,391.8 553.8,392.0 554.6,386.6 555.5,390.6 556.3,388.2 557.1,385.2 558.0,385.3 558.8,385.0 559.6,379.3 560.5,373.4 561.3,371.3 562.1,369.3 563.0,371.6 563.8,366.4 564.6,360.2 565.5,357.6 566.3,351.4 567.2,340.6 568.0,337.8 568.8,331.9 569.7,331.0 570.5,321.9 571.3,313.9 572.2,310.9 573.0,313.4 573.8,323.2 574.7,324.2 575.5,330.7 576.3,331.6 577.2,339.4 578.0,346.7 578.8,356.0 579.7,362.1 580.5,365.4 581.4,369.1 582.2,376.2 583.0,378.9 583.9,380.6 584.7,383.1 585.5,382.9 586.4,383.3 587.2,388.4 588.0,392.5 588.9,390.1 589.7,386.7 590.5,388.6 591.4,388.8 592.2,387.7 593.0,381.4 593.9,384.5 594.7,384.6 595.6,387.6 596.4,383.3 597.2,382.4 598.1,389.4 598.9,389.3 599.7,391.8 600.6,388.1 601.4,393.6 602.2,390.3 603.1,391.0 603.9,390.6 604.7,388.5 605.6,394.6 606.4,391.7 607.2,391.7 608.1,390.4 608.9,392.3 609.8,390.0 610.6,389.2 611.4,386.9 612.3,390.5 613.1,391.6 613.9,391.8 614.8,390.1 615.6,393.0 616.4,388.4 617.3,387.9 618.1,392.0 618.9,389.1 619.8,388.5 620.6,391.4 621.4,385.7 622.3,390.4 623.1,386.3 624.0,388.3 624.8,387.7 625.6,384.9 626.5,385.7 627.3,392.9 628.1,388.6 629.0,387.8 629.8,392.6 630.6,387.2 631.5,390.2 632.3,387.5 633.1,388.7 634.0,388.1 634.8,387.9 635.6,392.4 636.5,390.6 637.3,389.1 638.2,387.4 639.0,390.0 639.8,390.9 640.7,393.9 641.5,394.5 642.3,389.2 643.2,389.2 644.0,393.4" fill="none" stroke="#f01212" stroke-width="1.45" stroke-linejoin="round"/>
<line x1="572.5" y1="285.3" x2="572.5" y2="424.3" stroke="#000" stroke-width="1"/>
<rect x="496.8" y="285.3" width="150.8" height="139.0" fill="none" stroke="#222" stroke-width="1.45"/>
<rect x="577.2" y="285.3" width="70.4" height="15.1" fill="#fff" stroke="#222" stroke-width="1.1"/>
<line x1="578.7" y1="292.8" x2="590.7" y2="292.8" stroke="#e8141c" stroke-width="1.2"/>
<text x="593.30" y="295.30" font-size="7.1" text-anchor="start" fill="#222" font-weight="normal" >AR binding sites</text>
<path d="M502.20,424.3 v2.6 M525.80,424.3 v2.6 M549.40,424.3 v2.6 M573.00,424.3 v2.6 M596.60,424.3 v2.6 M620.20,424.3 v2.6 M643.80,424.3 v2.6 M496.8,413.50 h-2.8 M496.8,391.05 h-2.8 M496.8,368.60 h-2.8 M496.8,346.15 h-2.8 M496.8,323.70 h-2.8 M496.8,301.25 h-2.8" stroke="#333" stroke-width="1" fill="none"/>
<text x="503.50" y="437.00" font-size="8.3" text-anchor="middle" fill="#222" font-weight="normal" >−1500</text>
<text x="549.40" y="437.00" font-size="8.3" text-anchor="middle" fill="#222" font-weight="normal" >−500</text>
<text x="573.00" y="437.00" font-size="8.3" text-anchor="middle" fill="#222" font-weight="normal" >0</text>
<text x="596.60" y="437.00" font-size="8.3" text-anchor="middle" fill="#222" font-weight="normal" >500</text>
<text x="643.80" y="437.00" font-size="8.3" text-anchor="middle" fill="#222" font-weight="normal" >1500</text>
<text transform="translate(488.6,413.50) rotate(-90)" font-size="8.3" text-anchor="middle" fill="#222">0.06</text>
<text transform="translate(488.6,368.60) rotate(-90)" font-size="8.3" text-anchor="middle" fill="#222">0.10</text>
<text transform="translate(488.6,323.70) rotate(-90)" font-size="8.3" text-anchor="middle" fill="#222">0.14</text>
<text transform="translate(476.3,357.8) rotate(-90)" font-size="8.4" text-anchor="middle" fill="#222">Average Phastcons</text>
<text x="571.50" y="448.60" font-size="8.26" text-anchor="middle" fill="#222" font-weight="normal" >Distance from the Center (bp)</text>
</svg>
</body></html>
